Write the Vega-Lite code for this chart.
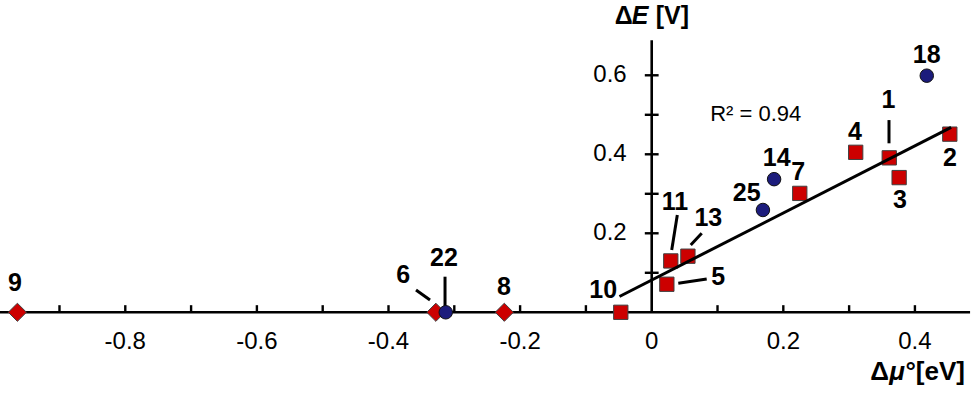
{
  "$schema": "https://vega.github.io/schema/vega-lite/v6.json",
  "width": 975,
  "height": 395,
  "padding": 0,
  "autosize": {"type": "none"},
  "background": "white",
  "config": {"view": {"stroke": null}},
  "datasets": {
    "points": [
      {"id": "1", "x": 0.361, "y": 0.391, "type": "square"},
      {"id": "2", "x": 0.453, "y": 0.451, "type": "square"},
      {"id": "3", "x": 0.376, "y": 0.341, "type": "square"},
      {"id": "4", "x": 0.310, "y": 0.405, "type": "square"},
      {"id": "5", "x": 0.023, "y": 0.071, "type": "square"},
      {"id": "6", "x": -0.328, "y": 0, "type": "diamond"},
      {"id": "7", "x": 0.225, "y": 0.301, "type": "square"},
      {"id": "8", "x": -0.224, "y": 0, "type": "diamond"},
      {"id": "9", "x": -0.964, "y": 0, "type": "diamond"},
      {"id": "10", "x": -0.047, "y": 0, "type": "square"},
      {"id": "11", "x": 0.029, "y": 0.130, "type": "square"},
      {"id": "13", "x": 0.055, "y": 0.142, "type": "square"},
      {"id": "14", "x": 0.186, "y": 0.337, "type": "circle"},
      {"id": "18", "x": 0.418, "y": 0.599, "type": "circle"},
      {"id": "22", "x": -0.313, "y": 0, "type": "circle"},
      {"id": "25", "x": 0.169, "y": 0.259, "type": "circle"}
    ],
    "labels": [
      {"id": "1", "x": 0.3596, "y": 0.5375},
      {"id": "2", "x": 0.4533, "y": 0.3899},
      {"id": "3", "x": 0.3774, "y": 0.2843},
      {"id": "4", "x": 0.3090, "y": 0.4572},
      {"id": "5", "x": 0.1012, "y": 0.0901},
      {"id": "6", "x": -0.3775, "y": 0.0944},
      {"id": "7", "x": 0.2228, "y": 0.3559},
      {"id": "8", "x": -0.2245, "y": 0.0648},
      {"id": "9", "x": -0.9676, "y": 0.0734},
      {"id": "10", "x": -0.0736, "y": 0.0565},
      {"id": "11", "x": 0.0354, "y": 0.2800},
      {"id": "13", "x": 0.0860, "y": 0.2380},
      {"id": "14", "x": 0.1900, "y": 0.3899},
      {"id": "18", "x": 0.4179, "y": 0.6514},
      {"id": "22", "x": -0.3157, "y": 0.1367},
      {"id": "25", "x": 0.1444, "y": 0.3013}
    ],
    "leaders": [
      {"id": "1", "x": 0.3606, "y": 0.4866, "x2": 0.3606, "y2": 0.4278},
      {"id": "6", "x": -0.3582, "y": 0.0565, "x2": -0.3369, "y2": 0.0311},
      {"id": "22", "x": -0.3141, "y": 0.0901, "x2": -0.3141, "y2": 0.0109},
      {"id": "11", "x": 0.0389, "y": 0.2463, "x2": 0.0304, "y2": 0.1577},
      {"id": "13", "x": 0.0760, "y": 0.2000, "x2": 0.0593, "y2": 0.1704},
      {"id": "5", "x": 0.0404, "y": 0.0734, "x2": 0.0836, "y2": 0.0843}
    ],
    "fit": [
      {"x": -0.049, "y": 0.040},
      {"x": 0.455, "y": 0.468}
    ],
    "xticks": [
      {"x": -0.9}, {"x": -0.8}, {"x": -0.7}, {"x": -0.6}, {"x": -0.5}, {"x": -0.4}, {"x": -0.3}, {"x": -0.2}, {"x": -0.1},
      {"x": 0.1}, {"x": 0.2}, {"x": 0.3}, {"x": 0.4}
    ],
    "yticks": [
      {"y": 0.1}, {"y": 0.2}, {"y": 0.3}, {"y": 0.4}, {"y": 0.5}, {"y": 0.6}
    ],
    "xlabels": [
      {"x": -0.8, "label": "-0.8"},
      {"x": -0.6, "label": "-0.6"},
      {"x": -0.4, "label": "-0.4"},
      {"x": -0.2, "label": "-0.2"},
      {"x": 0, "label": "0"},
      {"x": 0.2, "label": "0.2"},
      {"x": 0.4, "label": "0.4"}
    ],
    "ylabels": [
      {"y": 0.2, "label": "0.2"},
      {"y": 0.4, "label": "0.4"},
      {"y": 0.6, "label": "0.6"}
    ],
    "one": [{}]
  },
  "layer": [
    {
      "data": {"name": "one"},
      "mark": {"type": "rule", "color": "black", "strokeWidth": 2.6},
      "encoding": {
        "x": {"datum": -0.9904, "type": "quantitative", "scale": {"domain": [-0.9904, 0.4913], "nice": false, "zero": false}, "axis": null},
        "x2": {"datum": 0.4838},
        "y": {"datum": 0, "type": "quantitative", "scale": {"domain": [-0.2094, 0.7906], "nice": false, "zero": false}, "axis": null}
      }
    },
    {
      "data": {"name": "one"},
      "mark": {"type": "rule", "color": "black", "strokeWidth": 2.6},
      "encoding": {
        "x": {"datum": 0, "type": "quantitative", "scale": {"domain": [-0.9904, 0.4913], "nice": false, "zero": false}, "axis": null},
        "y": {"datum": 0, "type": "quantitative", "scale": {"domain": [-0.2094, 0.7906], "nice": false, "zero": false}, "axis": null},
        "y2": {"datum": 0.689}
      }
    },
    {
      "data": {"name": "xticks"},
      "mark": {"type": "rule", "color": "black", "strokeWidth": 2.4},
      "encoding": {
        "x": {"field": "x", "type": "quantitative", "scale": {"domain": [-0.9904, 0.4913], "nice": false, "zero": false}, "axis": null},
        "y": {"datum": 0, "type": "quantitative", "scale": {"domain": [-0.2094, 0.7906], "nice": false, "zero": false}, "axis": null},
        "y2": {"datum": 0.018}
      }
    },
    {
      "data": {"name": "yticks"},
      "mark": {"type": "rule", "color": "black", "strokeWidth": 2.4},
      "encoding": {
        "x": {"datum": -0.0105, "type": "quantitative", "scale": {"domain": [-0.9904, 0.4913], "nice": false, "zero": false}, "axis": null},
        "x2": {"datum": 0.0105},
        "y": {"field": "y", "type": "quantitative", "scale": {"domain": [-0.2094, 0.7906], "nice": false, "zero": false}, "axis": null}
      }
    },
    {
      "data": {"name": "xlabels"},
      "mark": {"type": "text", "font": "Liberation Sans", "fontSize": 24, "align": "center", "baseline": "middle", "dy": 30, "color": "black"},
      "encoding": {
        "x": {"field": "x", "type": "quantitative", "scale": {"domain": [-0.9904, 0.4913], "nice": false, "zero": false}, "axis": null},
        "y": {"datum": 0, "type": "quantitative", "scale": {"domain": [-0.2094, 0.7906], "nice": false, "zero": false}, "axis": null},
        "text": {"field": "label"}
      }
    },
    {
      "data": {"name": "ylabels"},
      "mark": {"type": "text", "font": "Liberation Sans", "fontSize": 24, "align": "right", "baseline": "middle", "dx": -25, "color": "black"},
      "encoding": {
        "x": {"datum": 0, "type": "quantitative", "scale": {"domain": [-0.9904, 0.4913], "nice": false, "zero": false}, "axis": null},
        "y": {"field": "y", "type": "quantitative", "scale": {"domain": [-0.2094, 0.7906], "nice": false, "zero": false}, "axis": null},
        "text": {"field": "label"}
      }
    },
    {
      "data": {"name": "leaders"},
      "mark": {"type": "rule", "color": "black", "strokeWidth": 3},
      "encoding": {
        "x": {"field": "x", "type": "quantitative", "scale": {"domain": [-0.9904, 0.4913], "nice": false, "zero": false}, "axis": null},
        "y": {"field": "y", "type": "quantitative", "scale": {"domain": [-0.2094, 0.7906], "nice": false, "zero": false}, "axis": null},
        "x2": {"field": "x2"},
        "y2": {"field": "y2"}
      }
    },
    {
      "data": {"name": "points"},
      "transform": [{"filter": "datum.type === 'square'"}],
      "mark": {"type": "square", "filled": true, "opacity": 1, "color": "#cc0000", "stroke": "#404040", "strokeWidth": 1, "size": 205},
      "encoding": {
        "x": {"field": "x", "type": "quantitative", "scale": {"domain": [-0.9904, 0.4913], "nice": false, "zero": false}, "axis": null},
        "y": {"field": "y", "type": "quantitative", "scale": {"domain": [-0.2094, 0.7906], "nice": false, "zero": false}, "axis": null}
      }
    },
    {
      "data": {"name": "points"},
      "transform": [{"filter": "datum.type === 'diamond'"}],
      "mark": {"type": "point", "shape": "diamond", "filled": true, "opacity": 1, "color": "#cc0000", "stroke": "#404040", "strokeWidth": 1, "size": 330},
      "encoding": {
        "x": {"field": "x", "type": "quantitative", "scale": {"domain": [-0.9904, 0.4913], "nice": false, "zero": false}, "axis": null},
        "y": {"field": "y", "type": "quantitative", "scale": {"domain": [-0.2094, 0.7906], "nice": false, "zero": false}, "axis": null}
      }
    },
    {
      "data": {"name": "points"},
      "transform": [{"filter": "datum.type === 'circle'"}],
      "mark": {"type": "circle", "filled": true, "opacity": 1, "color": "#1c1c7c", "stroke": "#111111", "strokeWidth": 1, "size": 182},
      "encoding": {
        "x": {"field": "x", "type": "quantitative", "scale": {"domain": [-0.9904, 0.4913], "nice": false, "zero": false}, "axis": null},
        "y": {"field": "y", "type": "quantitative", "scale": {"domain": [-0.2094, 0.7906], "nice": false, "zero": false}, "axis": null}
      }
    },
    {
      "data": {"name": "fit"},
      "mark": {"type": "line", "color": "black", "strokeWidth": 3},
      "encoding": {
        "x": {"field": "x", "type": "quantitative", "scale": {"domain": [-0.9904, 0.4913], "nice": false, "zero": false}, "axis": null},
        "y": {"field": "y", "type": "quantitative", "scale": {"domain": [-0.2094, 0.7906], "nice": false, "zero": false}, "axis": null}
      }
    },
    {
      "data": {"name": "labels"},
      "mark": {"type": "text", "font": "Liberation Sans", "fontWeight": "bold", "fontSize": 25, "align": "center", "baseline": "middle", "color": "black"},
      "encoding": {
        "x": {"field": "x", "type": "quantitative", "scale": {"domain": [-0.9904, 0.4913], "nice": false, "zero": false}, "axis": null},
        "y": {"field": "y", "type": "quantitative", "scale": {"domain": [-0.2094, 0.7906], "nice": false, "zero": false}, "axis": null},
        "text": {"field": "id"}
      }
    },
    {
      "data": {"name": "one"},
      "mark": {"type": "text", "font": "Liberation Sans", "fontSize": 22, "align": "center", "baseline": "middle", "color": "black", "text": "R² = 0.94"},
      "encoding": {
        "x": {"datum": 0.158, "type": "quantitative", "scale": {"domain": [-0.9904, 0.4913], "nice": false, "zero": false}, "axis": null},
        "y": {"datum": 0.502, "type": "quantitative", "scale": {"domain": [-0.2094, 0.7906], "nice": false, "zero": false}, "axis": null}
      }
    },
    {
      "data": {"name": "one"},
      "mark": {"type": "text", "font": "Liberation Sans", "fontWeight": "bold", "fontSize": 25, "align": "left", "baseline": "middle", "color": "black", "text": "Δ", "dx": -37},
      "encoding": {
        "x": {"datum": 0, "type": "quantitative", "scale": {"domain": [-0.9904, 0.4913], "nice": false, "zero": false}, "axis": null},
        "y": {"datum": 0.750, "type": "quantitative", "scale": {"domain": [-0.2094, 0.7906], "nice": false, "zero": false}, "axis": null}
      }
    },
    {
      "data": {"name": "one"},
      "mark": {"type": "text", "font": "Liberation Sans", "fontWeight": "bold", "fontStyle": "italic", "fontSize": 25, "align": "left", "baseline": "middle", "color": "black", "text": "E", "dx": -20},
      "encoding": {
        "x": {"datum": 0, "type": "quantitative", "scale": {"domain": [-0.9904, 0.4913], "nice": false, "zero": false}, "axis": null},
        "y": {"datum": 0.750, "type": "quantitative", "scale": {"domain": [-0.2094, 0.7906], "nice": false, "zero": false}, "axis": null}
      }
    },
    {
      "data": {"name": "one"},
      "mark": {"type": "text", "font": "Liberation Sans", "fontWeight": "bold", "fontSize": 25, "align": "left", "baseline": "middle", "color": "black", "text": "[V]", "dx": 4},
      "encoding": {
        "x": {"datum": 0, "type": "quantitative", "scale": {"domain": [-0.9904, 0.4913], "nice": false, "zero": false}, "axis": null},
        "y": {"datum": 0.750, "type": "quantitative", "scale": {"domain": [-0.2094, 0.7906], "nice": false, "zero": false}, "axis": null}
      }
    },
    {
      "data": {"name": "one"},
      "mark": {"type": "text", "font": "Liberation Sans", "fontWeight": "bold", "fontSize": 26, "align": "right", "baseline": "middle", "color": "black", "text": "°[eV]"},
      "encoding": {
        "x": {"datum": 0.476, "type": "quantitative", "scale": {"domain": [-0.9904, 0.4913], "nice": false, "zero": false}, "axis": null},
        "y": {"datum": -0.152, "type": "quantitative", "scale": {"domain": [-0.2094, 0.7906], "nice": false, "zero": false}, "axis": null}
      }
    },
    {
      "data": {"name": "one"},
      "mark": {"type": "text", "font": "Liberation Sans", "fontWeight": "bold", "fontStyle": "italic", "fontSize": 26, "align": "right", "baseline": "middle", "color": "black", "text": "μ", "dx": -60},
      "encoding": {
        "x": {"datum": 0.476, "type": "quantitative", "scale": {"domain": [-0.9904, 0.4913], "nice": false, "zero": false}, "axis": null},
        "y": {"datum": -0.152, "type": "quantitative", "scale": {"domain": [-0.2094, 0.7906], "nice": false, "zero": false}, "axis": null}
      }
    },
    {
      "data": {"name": "one"},
      "mark": {"type": "text", "font": "Liberation Sans", "fontWeight": "bold", "fontSize": 26, "align": "right", "baseline": "middle", "color": "black", "text": "Δ", "dx": -76},
      "encoding": {
        "x": {"datum": 0.476, "type": "quantitative", "scale": {"domain": [-0.9904, 0.4913], "nice": false, "zero": false}, "axis": null},
        "y": {"datum": -0.152, "type": "quantitative", "scale": {"domain": [-0.2094, 0.7906], "nice": false, "zero": false}, "axis": null}
      }
    }
  ]
}
